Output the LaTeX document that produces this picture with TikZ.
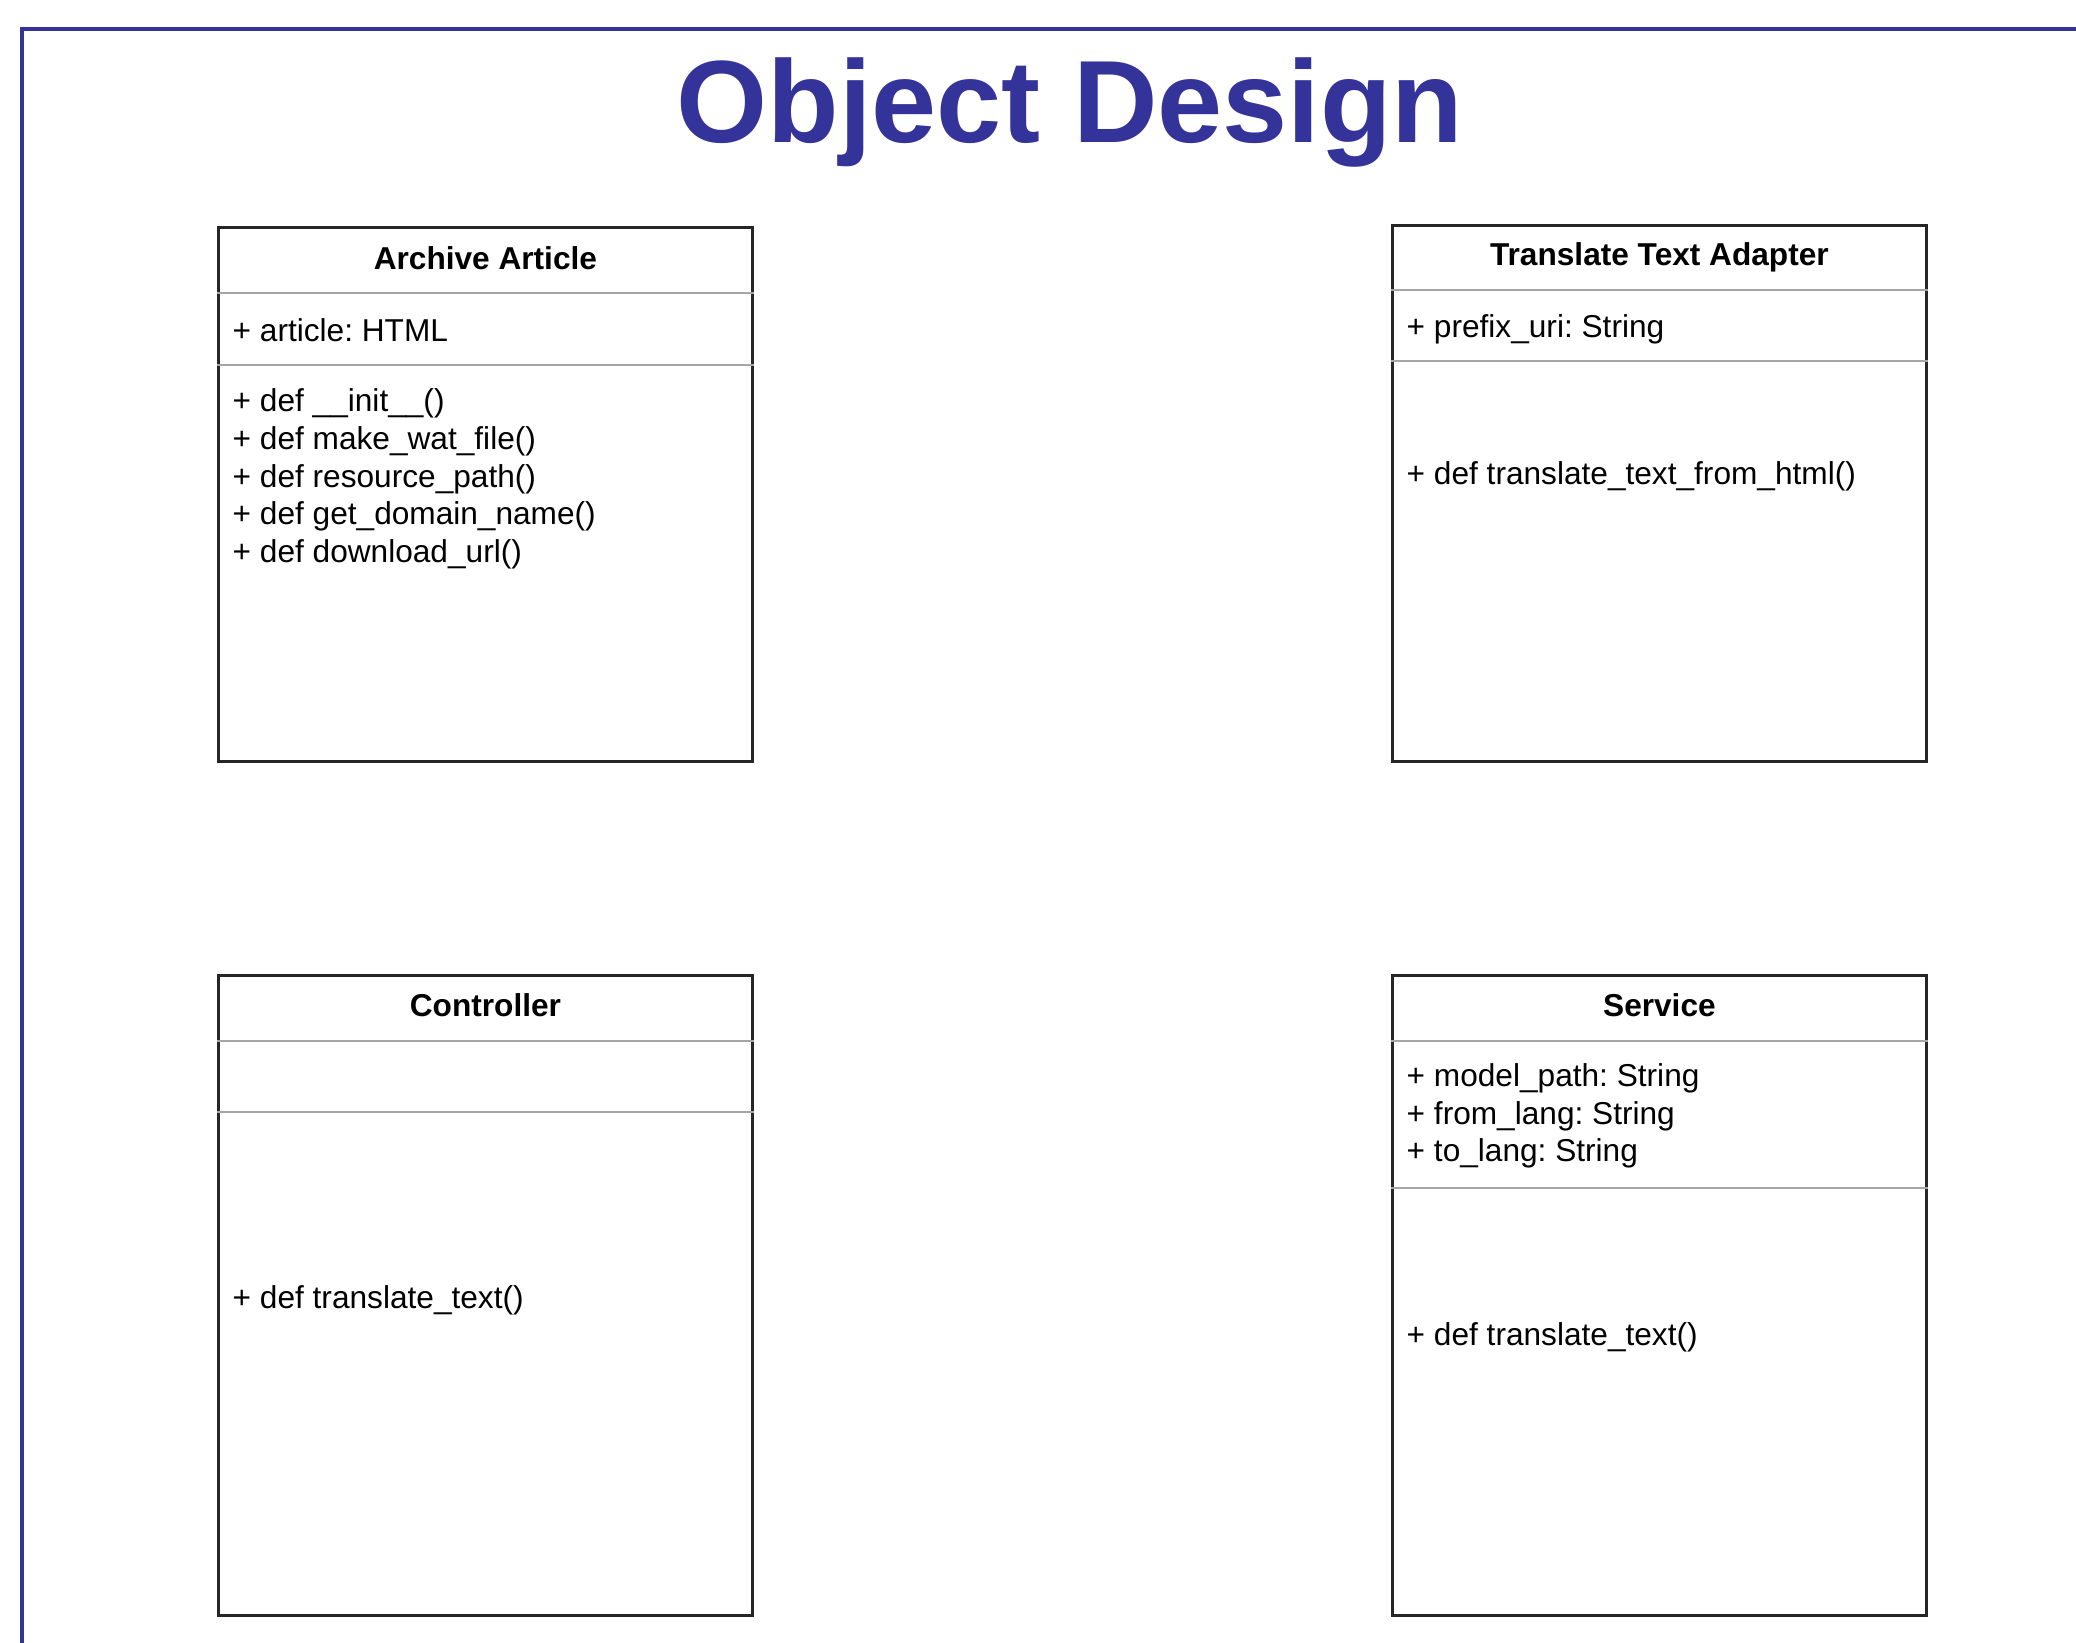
\documentclass[tikz,border=0pt]{standalone}
\usepackage{fontspec}
\setmainfont{Liberation Sans}
\usetikzlibrary{positioning}
\definecolor{slideblue}{RGB}{51,51,153}
\definecolor{rulegray}{RGB}{165,165,165}
\frenchspacing

\begin{document}
\begin{tikzpicture}[
    font = \fontsize{9}{10.7}\selectfont,
    classbox/.style = {
      draw = black!85,
      line width = 0.8pt,
      anchor = north west,
      minimum width = 5.34cm,
      inner sep = 0pt
    },
    classname/.style = {
      font = \fontsize{9}{10.7}\selectfont\bfseries,
      inner sep = 0pt
    },
    member/.style = {
      anchor = west,
      align = left,
      inner sep = 0pt
    },
    divider/.style = {
      draw = rulegray,
      line width = 0.6pt
    }
  ]
  \useasboundingbox (0,0) rectangle (20.76,-16.43);

  % slide frame and heading
  \coordinate (frameNE) at (20.76,-0.29);
  \coordinate (frameNW) at (0.22,-0.29);
  \coordinate (frameSW) at (0.22,-16.43);
  \draw[slideblue, line width=0.9pt] (frameNE) -- (frameNW) -- (frameSW);
  \node[font=\fontsize{33.3}{40}\selectfont\bfseries, text=slideblue, anchor=base] (heading) at (10.70,-1.43) {Object Design};

  % Archive Article
  \node[classbox, minimum height=5.34cm] (archive) at (2.17,-2.26) {};
  \node[classname] (archiveName) at ([yshift=-0.32cm]archive.north) {Archive Article};
  \draw[divider] ([yshift=-0.67cm]archive.north west) -- ([yshift=-0.67cm]archive.north east);
  \draw[divider] ([yshift=-1.39cm]archive.north west) -- ([yshift=-1.39cm]archive.north east);
  \node[member] (archiveAttr) at ([xshift=0.15cm, yshift=-1.04cm]archive.north west) {+ article: HTML};
  \node[member] (archiveOps) at ([xshift=0.15cm, yshift=-2.53cm]archive.north west)
    {+ def \_\_init\_\_()\\+ def make\_wat\_file()\\+ def resource\_path()\\+ def get\_domain\_name()\\+ def download\_url()};

  % Translate Text Adapter
  \node[classbox, minimum height=5.36cm] (adapter) at (13.91,-2.24) {};
  \node[classname] (adapterName) at ([yshift=-0.33cm]adapter.north) {Translate Text Adapter};
  \draw[divider] ([yshift=-0.66cm]adapter.north west) -- ([yshift=-0.66cm]adapter.north east);
  \draw[divider] ([yshift=-1.37cm]adapter.north west) -- ([yshift=-1.37cm]adapter.north east);
  \node[member] (adapterAttr) at ([xshift=0.15cm, yshift=-1.05cm]adapter.north west) {+ prefix\_uri: String};
  \node[member] (adapterOps) at ([xshift=0.15cm, yshift=-2.52cm]adapter.north west) {+ def translate\_text\_from\_html()};

  % Controller
  \node[classbox, minimum height=6.40cm] (controller) at (2.17,-9.74) {};
  \node[classname] (controllerName) at ([yshift=-0.31cm]controller.north) {Controller};
  \draw[divider] ([yshift=-0.67cm]controller.north west) -- ([yshift=-0.67cm]controller.north east);
  \draw[divider] ([yshift=-1.38cm]controller.north west) -- ([yshift=-1.38cm]controller.north east);
  \node[member] (controllerOps) at ([xshift=0.15cm, yshift=-3.26cm]controller.north west) {+ def translate\_text()};

  % Service
  \node[classbox, minimum height=6.40cm] (service) at (13.91,-9.74) {};
  \node[classname] (serviceName) at ([yshift=-0.31cm]service.north) {Service};
  \draw[divider] ([yshift=-0.67cm]service.north west) -- ([yshift=-0.67cm]service.north east);
  \draw[divider] ([yshift=-2.14cm]service.north west) -- ([yshift=-2.14cm]service.north east);
  \node[member] (serviceAttr) at ([xshift=0.15cm, yshift=-1.42cm]service.north west)
    {+ model\_path: String\\+ from\_lang: String\\+ to\_lang: String};
  \node[member] (serviceOps) at ([xshift=0.15cm, yshift=-3.63cm]service.north west) {+ def translate\_text()};
\end{tikzpicture}
\end{document}
